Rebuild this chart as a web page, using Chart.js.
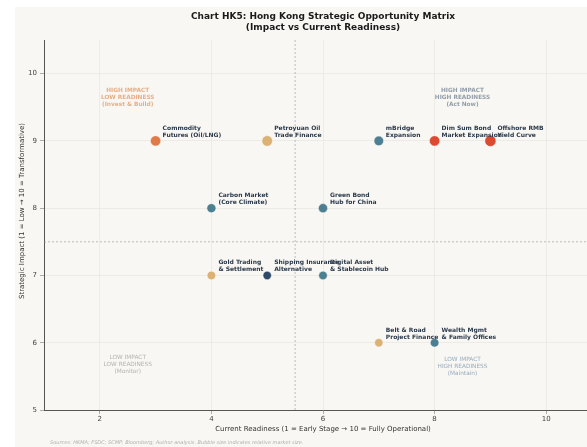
<!DOCTYPE html>
<html>
<head>
<meta charset="utf-8">
<script src="https://cdn.jsdelivr.net/npm/chart.js@4"></script>
<style>
  html, body { margin: 0; padding: 0; background: #ffffff; overflow: hidden; width: 587px; height: 447px; }
  #wrap { position: absolute; left: 15px; top: 7px; width: 600px; height: 440px; background: #f8f7f3; }
</style>
</head>
<body>
<div id="wrap"><canvas id="matrix"></canvas></div>
<script>
// initiatives plotted on the readiness / impact grid
const initiatives = [
    'Commodity\nFutures (Oil/LNG)',
    'Petroyuan Oil\nTrade Finance',
    'mBridge\nExpansion',
    'Dim Sum Bond\nMarket Expansion',
    'Offshore RMB\nYield Curve',
    'Carbon Market\n(Core Climate)',
    'Green Bond\nHub for China',
    'Gold Trading\n& Settlement',
    'Shipping Insurance\nAlternative',
    'Digital Asset\n& Stablecoin Hub',
    'Belt & Road\nProject Finance',
    'Wealth Mgmt\n& Family Offices'
];
const readiness = [3, 5, 7, 8, 9, 4, 6, 4, 5, 6, 7, 8];
const impact = [9, 9, 9, 9, 9, 8, 8, 7, 7, 7, 6, 6];
const marketSize = [5.2, 5.3, 4.8, 5.2, 5.6, 4.5, 4.6, 4.3, 4.2, 4.3, 4.2, 4.3];

const xTicks = [2, 4, 6, 8, 10];
const yTicks = [5, 6, 7, 8, 9, 10];
const readinessSplit = 5.5;
const impactSplit = 7.5;

const quadrants = [
    { x: 2.5, y: 9.65, text: ['HIGH IMPACT', 'LOW READINESS', '(Invest & Build)'], bold: true, color: 'rgba(226,150,95,0.75)' },
    { x: 8.5, y: 9.65, text: ['HIGH IMPACT', 'HIGH READINESS', '(Act Now)'], bold: true, color: 'rgba(120,135,150,0.8)' },
    { x: 2.5, y: 5.67, text: ['LOW IMPACT', 'LOW READINESS', '(Monitor)'], bold: false, color: 'rgba(150,150,150,0.7)' },
    { x: 8.5, y: 5.65, text: ['LOW IMPACT', 'HIGH READINESS', '(Maintain)'], bold: false, color: 'rgba(110,140,165,0.7)' }
];

const pointColors = ['#e07b47', '#dcb174', '#4d7f92', '#dd4a32', '#dd4a32', '#4d7f92',
                     '#4d7f92', '#dcb174', '#2f4a68', '#4d7f92', '#dcb174', '#4d7f92'];

const FONT = "'DejaVu Sans', sans-serif";

const bubbles = readiness.map((x, i) => ({ x: x, y: impact[i], r: marketSize[i] }));

// dashed quadrant dividers, quadrant captions, point labels, y title and source note
const matrixDecor = {
    id: 'matrixDecor',
    beforeDatasetsDraw(chart) {
        const { ctx, chartArea, scales } = chart;
        const vx = scales.x.getPixelForValue(readinessSplit);
        const hy = scales.y.getPixelForValue(impactSplit);
        ctx.save();
        ctx.strokeStyle = 'rgba(140,140,140,0.7)';
        ctx.lineWidth = 0.8;
        ctx.setLineDash([2, 2]);
        ctx.beginPath();
        ctx.moveTo(vx, chartArea.top);
        ctx.lineTo(vx, chartArea.bottom);
        ctx.moveTo(chartArea.left, hy);
        ctx.lineTo(chartArea.right, hy);
        ctx.stroke();
        ctx.setLineDash([]);

        ctx.textAlign = 'center';
        ctx.textBaseline = 'middle';
        quadrants.forEach(q => {
            const cx = scales.x.getPixelForValue(q.x);
            const cy = scales.y.getPixelForValue(q.y);
            ctx.font = (q.bold ? 'bold ' : '') + '5.8px ' + FONT;
            ctx.fillStyle = q.color;
            q.text.forEach((line, k) => ctx.fillText(line, cx, cy + (k - 1) * 7));
        });
        ctx.restore();
    },
    afterDatasetsDraw(chart) {
        const { ctx, chartArea } = chart;
        const meta = chart.getDatasetMeta(0);
        ctx.save();
        ctx.font = 'bold 6px ' + FONT;
        ctx.fillStyle = '#2b3a4c';
        ctx.textAlign = 'left';
        ctx.textBaseline = 'middle';
        meta.data.forEach((pt, i) => {
            const lines = initiatives[i].split('\n');
            ctx.fillText(lines[0], pt.x + 7, pt.y - 12.7);
            ctx.fillText(lines[1], pt.x + 7, pt.y - 5.7);
        });

        // y axis title
        ctx.font = '7px ' + FONT;
        ctx.fillStyle = '#333333';
        ctx.textAlign = 'center';
        ctx.translate(7, 204);
        ctx.rotate(-Math.PI / 2);
        ctx.fillText('Strategic Impact (1 = Low \u2192 10 = Transformative)', 0, 0);
        ctx.restore();

        ctx.save();
        ctx.font = 'italic 5px ' + FONT;
        ctx.fillStyle = '#b0b0b0';
        ctx.textAlign = 'left';
        ctx.textBaseline = 'middle';
        ctx.fillText('Sources: HKMA; FSDC; SCMP; Bloomberg; Author analysis. Bubble size indicates relative market size.', 35, 436);
        ctx.restore();
    }
};

new Chart(document.getElementById('matrix'), {
    type: 'bubble',
    data: {
        datasets: [{
            data: bubbles,
            backgroundColor: pointColors,
            borderColor: 'rgba(255,255,255,0.6)',
            borderWidth: 0.8,
            hoverRadius: 0
        }]
    },
    options: {
        responsive: true,
        maintainAspectRatio: false,
        animation: false,
        events: [],
        layout: { padding: { left: 0, right: 13, top: 0, bottom: 10 } },
        scales: {
            x: {
                type: 'linear',
                min: 1,
                max: 11,
                afterBuildTicks: s => { s.ticks = xTicks.map(v => ({ value: v })); },
                afterFit: s => { s.height = 27; },
                grid: { color: '#e9e7e2', lineWidth: 0.8, tickLength: 4, tickColor: '#999999' },
                border: { color: '#555555', width: 1 },
                ticks: { font: { family: FONT, size: 7 }, color: '#444444', padding: 1, maxRotation: 0 },
                title: {
                    display: true,
                    text: 'Current Readiness (1 = Early Stage \u2192 10 = Fully Operational)',
                    font: { family: FONT, size: 7 },
                    color: '#333333',
                    padding: { top: 0, bottom: 4 }
                }
            },
            y: {
                type: 'linear',
                min: 5,
                max: 10.5,
                afterBuildTicks: s => { s.ticks = yTicks.map(v => ({ value: v })); },
                afterFit: s => { s.width = 29; },
                grid: { color: '#e9e7e2', lineWidth: 0.8, tickLength: 4, tickColor: '#999999' },
                border: { color: '#555555', width: 1 },
                ticks: { font: { family: FONT, size: 7 }, color: '#444444', padding: 3 }
            }
        },
        plugins: {
            legend: { display: false },
            tooltip: { enabled: false },
            title: {
                display: true,
                fullSize: false,
                text: ['Chart HK5: Hong Kong Strategic Opportunity Matrix', '(Impact vs Current Readiness)'],
                font: { family: FONT, size: 9, weight: 'bold' },
                color: '#1a1a1a',
                padding: { top: 4, bottom: 7.4 }
            }
        }
    },
    plugins: [matrixDecor]
});
</script>
</body>
</html>
